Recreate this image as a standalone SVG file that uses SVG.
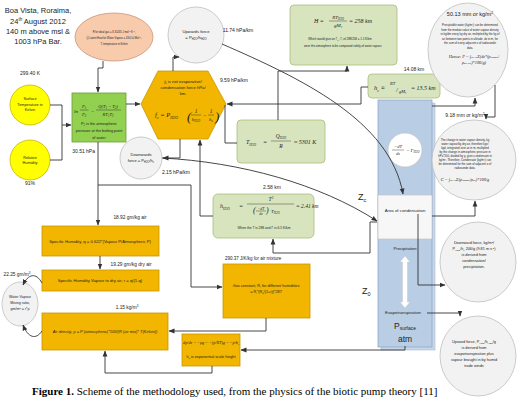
<svg xmlns="http://www.w3.org/2000/svg" width="520" height="410" viewBox="0 0 520 410">
<defs>
<marker id="ah" markerWidth="6" markerHeight="6" refX="5.5" refY="3" orient="auto" markerUnits="userSpaceOnUse"><path d="M0,0.6 L6,3 L0,5.4 z" fill="#333"/></marker>
</defs>
<style>
.t{font-family:"Liberation Sans",Arial,sans-serif;fill:#222}
.m{font-family:"Liberation Serif","Times New Roman",serif;font-style:italic;fill:#222}
.ol{fill:#d7e4bd;stroke:#a9bd7e;stroke-width:0.8}
.or{fill:#f2b600;stroke:#c99700;stroke-width:0.8}
.gc{fill:#f2f2f2;stroke:#bfbfbf;stroke-width:0.8}
.c{fill:none;stroke:#333;stroke-width:0.9}
.fl{stroke:#222;stroke-width:0.4}
</style>
<rect width="520" height="410" fill="#fff"/>

<g id="location" class="t" font-size="7.5" text-anchor="middle">
<text x="38" y="13">Boa Vista, Roraima,</text>
<text x="38" y="24">24<tspan font-size="4.5" dy="-3">th</tspan><tspan dy="3"> August 2012</tspan></text>
<text x="38" y="34">140 m above msl &amp;</text>
<text x="38" y="44">1003 hPa Bar.</text>
</g>

<g id="constants">
<ellipse cx="114" cy="37" rx="39" ry="24" fill="#f8cbad" stroke="#c8967a" stroke-width="0.8"/>
<g class="t" font-size="2.6" text-anchor="middle">
<text x="114" y="33">R for ideal gas = 8.31435 J mol<tspan dy="-1" font-size="2">-1</tspan><tspan dy="1"> K</tspan><tspan dy="-1" font-size="2">-1</tspan><tspan dy="1">,</tspan></text>
<text x="114" y="39">Q Latent Heat for Water Vapour = 43.6 kJ.Mol<tspan dy="-1" font-size="2">-1</tspan><tspan dy="1">,</tspan></text>
<text x="114" y="45">T, temperature in Kelvin</text>
</g>
</g>

<g id="surface-temp">
<text class="t" x="30" y="75" font-size="5" text-anchor="middle">299.40 K</text>
<circle cx="30" cy="105" r="20" fill="#ffff00" stroke="#c9b800" stroke-width="0.8"/>
<g class="t" font-size="3.8" text-anchor="middle">
<text x="30" y="100">Surface</text>
<text x="30" y="105.5">Temperature in</text>
<text x="30" y="111">Kelvin</text>
</g>
</g>

<g id="humidity">
<circle cx="30" cy="160" r="20" fill="#ffff00" stroke="#c9b800" stroke-width="0.8"/>
<g class="t" font-size="3.8" text-anchor="middle">
<text x="30" y="158.5">Relative</text>
<text x="30" y="164">Humidity</text>
</g>
<text class="t" x="30" y="185" font-size="5" text-anchor="middle">91%</text>
</g>

<g id="clausius">
<rect x="72" y="93" width="54" height="49" fill="#92d050" stroke="#6c9b38" stroke-width="0.8"/>
<text class="m" x="74" y="112.5" font-size="5">ln</text>
<text class="m" x="84" y="108" font-size="4.5" text-anchor="middle">P<tspan font-size="3" dy="1">1</tspan></text>
<line class="fl" x1="80" y1="110" x2="88.5" y2="110"/>
<text class="m" x="84" y="115.5" font-size="4.5" text-anchor="middle">P<tspan font-size="3" dy="1">2</tspan></text>
<text class="m" x="91" y="112.5" font-size="5">=</text>
<text class="m" x="108" y="108" font-size="4.5" text-anchor="middle">Q(T<tspan font-size="3" dy="1">1</tspan><tspan dy="-1"> − T</tspan><tspan font-size="3" dy="1">2</tspan><tspan dy="-1">)</tspan></text>
<line class="fl" x1="96" y1="110" x2="121" y2="110"/>
<text class="m" x="108" y="115.5" font-size="4.5" text-anchor="middle">RT<tspan font-size="3" dy="1">1</tspan><tspan dy="-1">T</tspan><tspan font-size="3" dy="1">2</tspan></text>
<g class="t" font-size="3.8" text-anchor="middle" fill="#1d3a10">
<text x="99" y="125">P<tspan font-size="2.6" dy="1">1</tspan><tspan dy="-1"> is the atmospheric</tspan></text>
<text x="99" y="132">pressure at the boiling point</text>
<text x="99" y="139">of water</text>
</g>
<text class="t" x="95" y="153" font-size="5" text-anchor="end">30.51 hPa</text>
</g>

<g id="net-force">
<polygon points="141,104 158,71 208,71 226,104 208,139 158,139" fill="#f2b600" stroke="#c99700" stroke-width="0.8"/>
<g class="t" font-size="4.2" text-anchor="middle">
<text x="183" y="83"><tspan class="m">f</tspan><tspan font-size="2.8" dy="1">c</tspan><tspan dy="-1"> is net evaporative/</tspan></text>
<text x="183" y="89">condensation force hPa/</text>
<text x="183" y="95">km.</text>
</g>
<text class="m" x="155" y="117" font-size="6.5">f<tspan font-size="4" dy="1.5">c</tspan><tspan dy="-1.5"> = P</tspan><tspan font-size="4" dy="1.5">H2O</tspan></text>
<text class="m" x="187" y="121" font-size="13">(</text>
<text class="m" x="196" y="113" font-size="5.5" text-anchor="middle">1</text>
<line class="fl" x1="191" y1="115" x2="201" y2="115"/>
<text class="m" x="196" y="121" font-size="5" text-anchor="middle">h<tspan font-size="3" dy="1">H2O</tspan></text>
<text class="m" x="203" y="117" font-size="5.5">−</text>
<text class="m" x="211" y="113" font-size="5.5" text-anchor="middle">1</text>
<line class="fl" x1="208" y1="115" x2="214" y2="115"/>
<text class="m" x="211" y="121" font-size="5" text-anchor="middle">h<tspan font-size="3" dy="1">c</tspan></text>
<text class="m" x="215" y="121" font-size="13">)</text>
<text class="t" x="234" y="82" font-size="5" text-anchor="middle">9.59 hPa/km</text>
</g>

<g id="upwards-force">
<circle cx="196" cy="35" r="28" class="gc"/>
<g class="t" font-size="4.2" text-anchor="middle">
<text x="196" y="33">Upwards force</text>
<text x="196" y="39">= P<tspan font-size="2.8" dy="1">H2O</tspan><tspan dy="-1">/h</tspan><tspan font-size="2.8" dy="1">H2O</tspan></text>
</g>
<text class="t" x="238" y="32" font-size="5" text-anchor="middle">11.74 hPa/km</text>
</g>

<g id="downwards-force">
<circle cx="141" cy="158" r="21" class="gc"/>
<g class="t" font-size="4" text-anchor="middle">
<text x="141" y="156">Downwards</text>
<text x="141" y="162">force = P<tspan font-size="2.7" dy="1">H2O</tspan><tspan dy="-1">/h</tspan><tspan font-size="2.7" dy="1">c</tspan></text>
</g>
<text class="t" x="176" y="174" font-size="5" text-anchor="middle">2.15 hPa/km</text>
</g>

<g id="scale-height-water">
<rect x="290" y="5" width="107" height="60" rx="4" class="ol"/>
<text class="m" x="314" y="23" font-size="6">H =</text>
<text class="m" x="338" y="19" font-size="5" text-anchor="middle">RT<tspan font-size="3" dy="1">H2O</tspan></text>
<line class="fl" x1="329" y1="21" x2="347" y2="21"/>
<text class="m" x="338" y="27" font-size="5" text-anchor="middle">gM<tspan font-size="3" dy="1">v</tspan></text>
<text class="m" x="349" y="23" font-size="6">= 258 km</text>
<g class="t" font-size="2.9" text-anchor="middle">
<text x="340" y="40">Which would give an Γ<tspan font-size="2.2" dy="0.8">H</tspan><tspan dy="-0.8">, Γ, of 288/258 = 1.1 K/km</tspan></text>
<text x="343" y="47">were the atmosphere to be composed solely of water vapour.</text>
</g>
</g>

<g id="latent-temp">
<rect x="237" y="120" width="88" height="43" rx="4" class="ol"/>
<text class="m" x="246" y="144" font-size="6">T<tspan font-size="3.5" dy="1.5">H2O</tspan></text>
<text class="m" x="263" y="144" font-size="6">=</text>
<text class="m" x="281" y="138" font-size="5.5" text-anchor="middle">Q<tspan font-size="3.3" dy="1.2">H2O</tspan></text>
<line class="fl" x1="271" y1="141" x2="291" y2="141"/>
<text class="m" x="281" y="148" font-size="5.5" text-anchor="middle">R</text>
<text class="m" x="294" y="144" font-size="6">≈ 5301 K</text>
</g>

<g id="scale-height-vapour">
<text class="t" x="272" y="189" font-size="5" text-anchor="middle">2.58 km</text>
<rect x="213" y="194" width="101" height="44" rx="5" class="ol"/>
<text class="m" x="220" y="208" font-size="6">h<tspan font-size="3.5" dy="1.5">H2O</tspan></text>
<text class="m" x="239" y="208" font-size="6">=</text>
<text class="m" x="271" y="201" font-size="5.5" text-anchor="middle">T<tspan font-size="3.5" dy="-2">2</tspan></text>
<line class="fl" x1="247" y1="204" x2="294" y2="204"/>
<text class="m" x="253" y="213" font-size="8">(</text>
<text class="m" x="261" y="209.5" font-size="3.8" text-anchor="middle">−dT</text>
<line class="fl" x1="256" y1="211" x2="266" y2="211"/>
<text class="m" x="261" y="215" font-size="3.8" text-anchor="middle">dz</text>
<text class="m" x="266" y="213" font-size="8">)</text>
<text class="m" x="271" y="213" font-size="5">T<tspan font-size="3" dy="1">H2O</tspan></text>
<text class="m" x="296" y="208" font-size="5.5">= 2.41 km</text>
<text class="t" x="264" y="229" font-size="3.3" text-anchor="middle">When the T is 288 and Γ is 6.5 K/km</text>
</g>

<g id="condensation-height">
<text class="t" x="414" y="71" font-size="5" text-anchor="middle">14.08 km</text>
<rect x="368" y="74" width="72" height="24" rx="4" class="ol"/>
<text class="m" x="374" y="90" font-size="6.5">h<tspan font-size="3.8" dy="1.5">c</tspan><tspan dy="-1.5"> ≡ </tspan></text>
<text class="m" x="390" y="85" font-size="4.5">RT</text>
<text class="m" x="396" y="92" font-size="6">/</text>
<text class="m" x="399" y="93" font-size="4.5">gM<tspan font-size="3" dy="1">r</tspan></text>
<text class="m" x="411" y="90" font-size="6">= 13.5 km</text>
</g>

<g id="column">
<rect x="381" y="103" width="54" height="247" fill="#c8d6e8" stroke="#a7bcd6" stroke-width="0.6"/>
<rect x="378" y="100" width="54" height="247" fill="#b9cde5" stroke="#8eaacb" stroke-width="0.8"/>
<rect x="378" y="195" width="54" height="44" fill="#f7f7f7" stroke="#bfbfbf" stroke-width="0.6"/>
<circle cx="405" cy="150" r="17" fill="#fff" stroke="#bfbfbf" stroke-width="0.6"/>
<text class="m" x="398" y="148" font-size="4.5" text-anchor="middle">−dT</text>
<line class="fl" x1="392" y1="150" x2="404" y2="150"/>
<text class="m" x="398" y="155" font-size="4.5" text-anchor="middle">dz</text>
<text class="m" x="406" y="152" font-size="5">= Γ<tspan font-size="3" dy="1">H2O</tspan></text>
<text class="t" x="405" y="212" font-size="4.3" text-anchor="middle">Area of condensation</text>
<text class="t" x="405" y="250" font-size="4.2" text-anchor="middle" fill="#e0365a">Precipitation</text>
<path d="M405,256 L410,262 L407.5,262 L407.5,302 L410,302 L405,308 L400,302 L402.5,302 L402.5,262 L400,262 Z" fill="#fff" stroke="#c8c8c8" stroke-width="0.5"/>
<text class="t" x="403" y="314" font-size="4.3" text-anchor="middle" fill="#2f4f9f">Evapotranspiration</text>
<text class="t" x="405" y="329" font-size="8.5" text-anchor="middle">P<tspan font-size="5" dy="1">surface</tspan></text>
<text class="t" x="405" y="342" font-size="8.5" text-anchor="middle">atm</text>
<text class="t" x="358" y="200" font-size="9">Z<tspan font-size="5.5" dy="1.5">c</tspan></text>
<text class="t" x="362" y="294" font-size="9">Z<tspan font-size="5.5" dy="1.5">0</tspan></text>
</g>

<g id="precipitable-water">
<ellipse cx="468" cy="50" rx="40" ry="47" class="gc"/>
<text class="t" x="470" y="16" font-size="5.5" text-anchor="middle">50.13 mm or kg/m<tspan font-size="3.5" dy="-2">2</tspan></text>
<g class="t" font-size="2.8" text-anchor="middle">
<text x="470" y="26">Precipitable water (kg/m²) can be determined</text>
<text x="470" y="30.5">from the median value of water vapour density</text>
<text x="470" y="35">in kg/dm every kg dry air, multiplied by the kg of</text>
<text x="470" y="39.5">air between two points in altitude, dz in m, for</text>
<text x="470" y="44">the sum of every adjacent z of radiosonde</text>
<text x="470" y="48.5">data.</text>
</g>
<text class="m" x="474" y="58" font-size="4.3" text-anchor="middle">Hence: P = ∫<tspan font-size="2.6">z0−zc</tspan>Σ(dz*(ρ<tspan font-size="2.6">vapour</tspan>/</text>
<text class="m" x="474" y="64" font-size="4.3" text-anchor="middle">ρ<tspan font-size="2.6">dry air</tspan>)*100/g)</text>
</g>

<g id="condensate">
<text class="t" x="465" y="117" font-size="5" text-anchor="middle">9.18 mm or kg/m<tspan font-size="3.2" dy="-2">2</tspan></text>
<ellipse cx="474" cy="160" rx="42" ry="40" class="gc"/>
<g class="t" font-size="2.8" text-anchor="middle">
<text x="465" y="141">The change in water vapour density, kg</text>
<text x="465" y="145">water vapour/kg dry air, therefore kgv/</text>
<text x="465" y="149">kgd, integrated over ∂z in m, multiplied</text>
<text x="465" y="153">by the change in atmospheric pressure in</text>
<text x="465" y="157">hPa*100, divided by g, gives condensate in</text>
<text x="465" y="161">kg/m². Therefore, Condensate (kg/m²) can</text>
<text x="465" y="165">be determined for the sum of adjacent z of</text>
<text x="465" y="169">radiosonde data.</text>
</g>
<text class="m" x="465" y="181" font-size="4.3" text-anchor="middle">C = ∫<tspan font-size="2.6">z0−zc</tspan>Σ(ρ<tspan font-size="2.6">vapour</tspan>/ρ<tspan font-size="2.6">air</tspan>)*100/g</text>
</g>

<g id="downward-force">
<ellipse cx="478" cy="262" rx="38" ry="40" class="gc"/>
<g class="t" font-size="3.8" text-anchor="middle">
<text x="474" y="244">Downward force, kg/m<tspan font-size="2.5" dy="-1.5">2</tspan><tspan dy="1.5">/</tspan></text>
<text x="474" y="250">P<tspan font-size="2.5" dy="1">H2O</tspan><tspan dy="-1">/h</tspan><tspan font-size="2.5" dy="1">c</tspan><tspan dy="-1"> 206/g (9.81 m s</tspan><tspan font-size="2.5" dy="-1.5">-2</tspan><tspan dy="1.5">)</tspan></text>
<text x="474" y="256">is derived from</text>
<text x="474" y="262">condensation/</text>
<text x="474" y="268">precipitation.</text>
</g>
</g>

<g id="upward-force">
<ellipse cx="478" cy="356" rx="38" ry="40" class="gc"/>
<g class="t" font-size="3.8" text-anchor="middle">
<text x="474" y="343">Upward force, P<tspan font-size="2.5" dy="1">H2O</tspan><tspan dy="-1">/h</tspan><tspan font-size="2.5" dy="1">H2O</tspan><tspan dy="-1">/g</tspan></text>
<text x="474" y="349">is derived from</text>
<text x="474" y="355">evapotranspiration plus</text>
<text x="474" y="361">vapour brought in by humid</text>
<text x="474" y="367">trade winds</text>
</g>
</g>

<g id="specific-humidity">
<text class="t" x="130" y="219" font-size="4.8" text-anchor="middle">18.92 gm/kg air</text>
<rect x="42" y="226" width="117" height="30" class="or"/>
<text class="t" x="100" y="243" font-size="4.2" text-anchor="middle">Specific Humidity, q = 0.622*(Vapour P/Atmospheric P)</text>
</g>

<g id="mixing-ratio">
<text class="t" x="131" y="266" font-size="4.8" text-anchor="middle">19.29 gm/kg dry air</text>
<rect x="42" y="270" width="117" height="21" class="or"/>
<text class="t" x="100" y="282" font-size="4.2" text-anchor="middle">Specific Humidity Vapour to dry air, r = q/(1-q)</text>
</g>

<g id="vapour-density">
<text class="t" x="17" y="276" font-size="4.8" text-anchor="middle">22.25 gm/m<tspan font-size="3" dy="-2">3</tspan></text>
<ellipse cx="20" cy="304" rx="18" ry="22" class="gc"/>
<g class="t" font-size="3.6" text-anchor="middle">
<text x="20" y="298">Water Vapour</text>
<text x="20" y="304">Mixing ratio,</text>
<text x="20" y="310">gm/m<tspan font-size="2.4" dy="-1.5">3</tspan><tspan dy="1.5"> = r*ρ</tspan></text>
</g>
</g>

<g id="air-density">
<text class="t" x="127" y="309" font-size="4.8" text-anchor="middle">1.15  kg/m<tspan font-size="3" dy="-2">3</tspan></text>
<rect x="42" y="313" width="126" height="37" class="or"/>
<text class="t" x="105" y="333" font-size="4" text-anchor="middle" font-style="italic">Air density, ρ = P (atmospheric)*100/(R (air mix)* T(Kelvin))</text>
</g>

<g id="gas-constant">
<text class="t" x="225" y="260" font-size="4.5">290.37 J/K/kg for air mixture</text>
<rect x="223" y="264" width="87" height="54" class="or"/>
<g class="t" font-size="3.8" text-anchor="middle">
<text x="266" y="287">Gas constant, R, for different humidities</text>
<text x="266" y="293">= R<tspan font-size="2.5" dy="1">i</tspan><tspan dy="-1">*(R</tspan><tspan font-size="2.5" dy="1">d</tspan><tspan dy="-1">/(1+r))*287</tspan></text>
</g>
</g>

<g id="pressure-gradient">
<rect x="182" y="334" width="58" height="32" class="or"/>
<text class="m" x="211" y="344" font-size="4.2" text-anchor="middle">dp/dz = −ρg = −(p/RT)g = −p/h<tspan font-size="2.6" dy="1">s</tspan></text>
<text class="t" x="211" y="358" font-size="3.8" text-anchor="middle">h<tspan font-size="2.5" dy="1">s</tspan><tspan dy="-1"> is exponential scale height</tspan></text>
</g>

<g id="connectors" class="c">
<path d="M103,61 V68 H98 V92" marker-end="url(#ah)"/>
<path d="M50,105 H62 V160 H50"/>
<path d="M62,125 H71" marker-end="url(#ah)"/>
<path d="M126,104 H140" marker-end="url(#ah)"/>
<path d="M173,71 V57 H179" marker-end="url(#ah)"/>
<path d="M180,139 V158 H163" marker-end="url(#ah)"/>
<path d="M213,216 H200 V140" marker-end="url(#ah)"/>
<path d="M368,87 H361 V104 H227" marker-end="url(#ah)"/>
<path d="M237,143 H225 V105"/>
<path d="M278,120 V71 H347 V66" marker-end="url(#ah)"/>
<path d="M222,44 C300,78 390,120 403,194" marker-end="url(#ah)"/>
<path d="M162,158 C240,162 320,184 377,221" marker-end="url(#ah)"/>
<path d="M377,222 H370 V253 H273 V239" marker-end="url(#ah)"/>
<path d="M418,214 V285 H445" marker-end="url(#ah)"/>
<path d="M432,216 H475 V201" marker-end="url(#ah)"/>
<path d="M432,106 H475 V98" marker-end="url(#ah)"/>
<path d="M495,85 V117 H486 V119" marker-end="url(#ah)"/>
<path d="M427,313 H460 V316" marker-end="url(#ah)"/>
<path d="M405,346 V350 H241" marker-end="url(#ah)"/>
<path d="M212,366 V373 H105 V351" marker-end="url(#ah)"/>
<path d="M266,318 V331 H169" marker-end="url(#ah)"/>
<path d="M98,142 V225" marker-end="url(#ah)"/>
<path d="M98,185 H191 V287 H222" marker-end="url(#ah)"/>
<path d="M100,256 V269" marker-end="url(#ah)"/>
<path d="M42,283 C36,272 28,274 23,285" marker-end="url(#ah)"/>
<path d="M42,331 C36,340 28,338 23,325" marker-end="url(#ah)"/>
</g>

<text x="32" y="395" font-family="Liberation Serif,'Times New Roman',serif" font-size="11" fill="#000"><tspan font-weight="bold">Figure 1.</tspan> Scheme of the methodology used, from the physics of the biotic pump theory [11]</text>
</svg>
